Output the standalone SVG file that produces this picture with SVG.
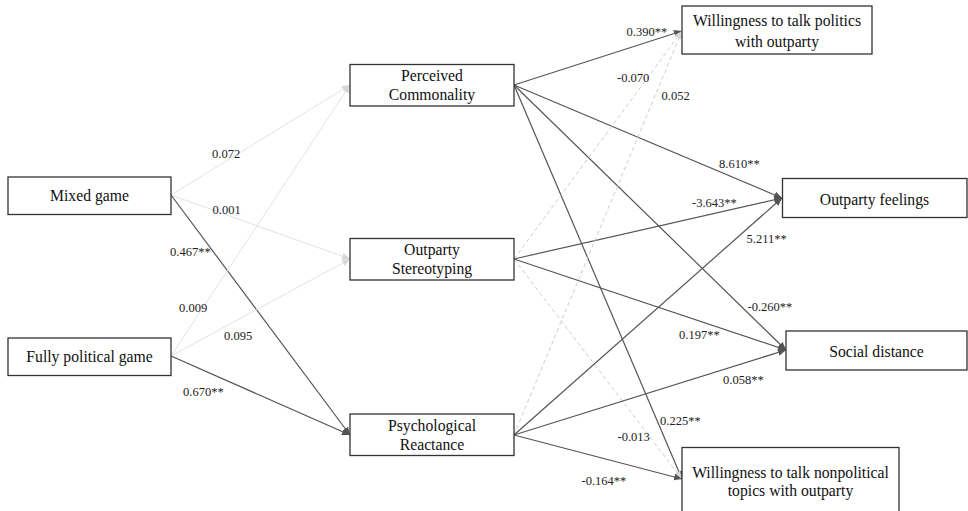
<svg xmlns="http://www.w3.org/2000/svg" width="968" height="511" viewBox="0 0 968 511">
<style>
.box{fill:#fff;stroke:#333;stroke-width:1.3}
.bt{font-size:15.7px;fill:#111;text-anchor:middle}
.lt{font-size:12.5px;fill:#222}
.d{stroke:#555;stroke-width:1.2;fill:none;marker-end:url(#ad)}
.l{stroke:#e2e2e2;stroke-width:1;fill:none;marker-end:url(#al)}
.ld{stroke:#cdcdcd;stroke-width:1;stroke-dasharray:4 3;fill:none;marker-end:url(#al)}
</style>
<defs>
<marker id="ad" markerUnits="userSpaceOnUse" markerWidth="9" markerHeight="8" refX="8" refY="3.5" orient="auto"><path d="M0,0 L8,3.5 L0,7 z" fill="#555"/></marker>
<marker id="al" markerUnits="userSpaceOnUse" markerWidth="9" markerHeight="8" refX="8" refY="3.5" orient="auto"><path d="M0,0 L8,3.5 L0,7 z" fill="#d8d8d8"/></marker>
</defs>
<rect width="968" height="511" fill="#fff"/>
<g font-family="Liberation Serif, Times New Roman, serif">
<g id="connectors">
<line class="l" x1="171" y1="195" x2="350" y2="85"/>
<line class="l" x1="171" y1="195" x2="350" y2="259"/>
<line class="d" x1="171" y1="195" x2="350" y2="435"/>
<line class="l" x1="171" y1="356" x2="350" y2="85"/>
<line class="l" x1="171" y1="356" x2="350" y2="259"/>
<line class="d" x1="171" y1="356" x2="350" y2="435"/>
<line class="d" x1="514" y1="85" x2="682" y2="31"/>
<line class="d" x1="514" y1="85" x2="782" y2="198"/>
<line class="d" x1="514" y1="85" x2="786" y2="350"/>
<line class="d" x1="514" y1="85" x2="682" y2="479"/>
<line class="ld" x1="514" y1="259" x2="682" y2="31"/>
<line class="d" x1="514" y1="259" x2="782" y2="198"/>
<line class="d" x1="514" y1="259" x2="786" y2="350"/>
<line class="ld" x1="514" y1="259" x2="682" y2="479"/>
<line class="ld" x1="514" y1="435" x2="682" y2="31"/>
<line class="d" x1="514" y1="435" x2="782" y2="198"/>
<line class="d" x1="514" y1="435" x2="786" y2="350"/>
<line class="d" x1="514" y1="435" x2="682" y2="479"/>
<text class="lt" x="212" y="158">0.072</text>
<text class="lt" x="212.5" y="214">0.001</text>
<text class="lt" x="170" y="256">0.467**</text>
<text class="lt" x="179" y="312">0.009</text>
<text class="lt" x="224" y="340">0.095</text>
<text class="lt" x="183" y="396">0.670**</text>
<text class="lt" x="626.5" y="36">0.390**</text>
<text class="lt" x="617" y="81.5">-0.070</text>
<text class="lt" x="661.5" y="100">0.052</text>
<text class="lt" x="719" y="168">8.610**</text>
<text class="lt" x="692" y="207">-3.643**</text>
<text class="lt" x="746.5" y="242.5">5.211**</text>
<text class="lt" x="747.5" y="311">-0.260**</text>
<text class="lt" x="679" y="339">0.197**</text>
<text class="lt" x="723" y="383.5">0.058**</text>
<text class="lt" x="660" y="425">0.225**</text>
<text class="lt" x="617.5" y="441">-0.013</text>
<text class="lt" x="581.5" y="485">-0.164**</text>
</g>
<g id="mixed-game"><rect class="box" x="8" y="177" width="163" height="37.5"/><text class="bt" x="89.5" y="201">Mixed game</text></g>
<g id="fully-political-game"><rect class="box" x="8" y="338" width="163" height="37.5"/><text class="bt" x="89.5" y="362">Fully political game</text></g>
<g id="perceived-commonality"><rect class="box" x="350" y="64.5" width="164" height="41.5"/><text class="bt" x="432" y="81">Perceived</text><text class="bt" x="432" y="100">Commonality</text></g>
<g id="outparty-stereotyping"><rect class="box" x="350" y="238.5" width="164" height="41.5"/><text class="bt" x="432" y="255">Outparty</text><text class="bt" x="432" y="274">Stereotyping</text></g>
<g id="psychological-reactance"><rect class="box" x="350" y="414" width="164" height="41.5"/><text class="bt" x="432" y="431">Psychological</text><text class="bt" x="432" y="449.5">Reactance</text></g>
<g id="willingness-politics"><rect class="box" x="682" y="6" width="190" height="48"/><text class="bt" x="777" y="26">Willingness to talk politics</text><text class="bt" x="777" y="47">with outparty</text></g>
<g id="outparty-feelings"><rect class="box" x="782.5" y="178.5" width="184.5" height="39"/><text class="bt" x="874.5" y="204.5">Outparty feelings</text></g>
<g id="social-distance"><rect class="box" x="786" y="331" width="181" height="39"/><text class="bt" x="876.5" y="357">Social distance</text></g>
<g id="willingness-nonpolitical"><rect class="box" x="682" y="447.5" width="217" height="75"/><text class="bt" x="790.5" y="477.5">Willingness to talk nonpolitical</text><text class="bt" x="790.5" y="496">topics with outparty</text></g>
</g>
</svg>
